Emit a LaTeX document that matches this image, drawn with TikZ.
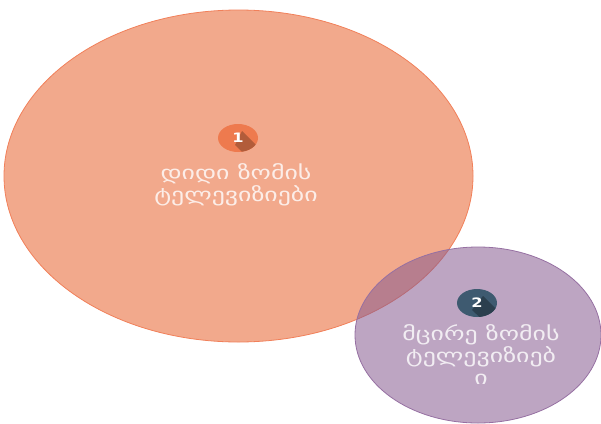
\documentclass[tikz,border=0pt]{standalone}
\usepackage{fontspec}
\newfontfamily\geofont{DejaVu Sans}
\usepackage{tikz}
\usetikzlibrary{shapes.geometric}
\usepackage{xcolor}
\definecolor{tvorange}{RGB}{242,169,140}
\definecolor{tvorangeline}{RGB}{241,128,90}
\definecolor{tvpurple}{RGB}{135,91,144}
\definecolor{tvpurpleline}{RGB}{150,112,162}
\definecolor{badgeorange}{RGB}{238,122,78}
\definecolor{badgeblue}{RGB}{62,90,112}
\tikzstyle{venn} = [ellipse, inner sep=0pt, line width=0.8pt]
\tikzstyle{badge} = [ellipse, minimum width=40pt, minimum height=28pt, inner sep=0pt]
\tikzstyle{digit} = [text=white, font=\geofont\bfseries\fontsize{13}{15}\selectfont, inner sep=0pt, xscale=1.25, transform shape]
\tikzstyle{setname} = [align=center, text=white, text opacity=0.8, font=\geofont\fontsize{19}{22}\selectfont, xscale=1.36, transform shape]

\begin{document}
\begin{tikzpicture}[x=1pt, y=-1pt]
\useasboundingbox (0,0) rectangle (601,423);

% Sets
\node (large) [venn, draw=tvorangeline, fill=tvorange, minimum width=469pt, minimum height=332pt] at (238.5,176) {};
\node (small) [venn, draw=tvpurpleline, fill=tvpurple, fill opacity=0.55, minimum width=246pt, minimum height=176pt] at (478,335) {};

% Badges
\node (badge1) [badge, fill=badgeorange] at (238,138) {};
\begin{scope}
\clip (238,138) ellipse [x radius=20, y radius=14];
\fill[badgeorange!75!black] (242,131) -- (272,161) -- (265,175) -- (235,145) -- cycle;
\end{scope}
\node (one) [digit] at (badge1) {1};

\node (badge2) [badge, fill=badgeblue] at (477,303) {};
\begin{scope}
\clip (477,303) ellipse [x radius=20, y radius=14];
\fill[badgeblue!70!black] (483,296) -- (513,326) -- (504,340) -- (472,310) -- cycle;
\end{scope}
\node (two) [digit] at (badge2) {2};

% Names
\node (largename) [setname] at (236,185) {დიდი ზომის\\ტელევიზიები};
\node (smallname) [setname] at (481,355) {მცირე ზომის\\ტელევიზიებ\\ი};
\end{tikzpicture}
\end{document}
